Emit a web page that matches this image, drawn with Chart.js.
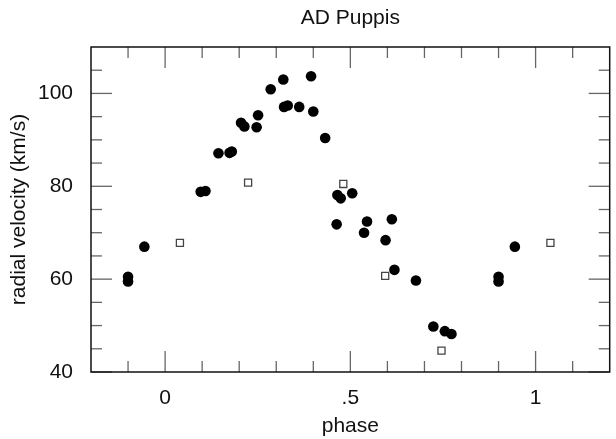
<!DOCTYPE html>
<html>
<head>
<meta charset="utf-8">
<script src="https://cdn.jsdelivr.net/npm/chart.js@4.4.0/dist/chart.umd.min.js"></script>
<style>
  html, body { margin: 0; padding: 0; background: #fff; }
</style>
</head>
<body>
<canvas id="rvChart" width="616" height="439"></canvas>
<script>
// filled circles (phase wraps: points below 0 repeat those near 0.9)
var circlePhase = [-0.100, -0.100, -0.056, 0.096, 0.109, 0.144, 0.174, 0.180, 0.205, 0.214,
                   0.247, 0.251, 0.285, 0.319, 0.321, 0.331, 0.362, 0.394, 0.400, 0.432,
                   0.463, 0.465, 0.474, 0.505, 0.537, 0.545, 0.595, 0.612, 0.619, 0.677,
                   0.724, 0.755, 0.773, 0.900, 0.900, 0.944];
var circleVel = [60.5, 59.5, 67.0, 78.8, 79.0, 87.1, 87.2, 87.5, 93.7, 92.9,
                 92.7, 95.3, 100.9, 103.0, 97.1, 97.4, 97.1, 103.7, 96.1, 90.4,
                 71.8, 78.1, 77.4, 78.5, 70.0, 72.4, 68.4, 72.9, 62.0, 59.7,
                 49.8, 48.8, 48.2, 60.5, 59.5, 67.0];

// open squares
var squarePhase = [0.040, 0.224, 0.481, 0.594, 0.746, 1.040];
var squareVel = [67.8, 80.8, 80.5, 60.7, 44.6, 67.8];

var xLabelTicks = [0, 0.5, 1];
var xMinorTicks = [-0.1, 0.1, 0.2, 0.3, 0.4, 0.6, 0.7, 0.8, 0.9, 1.1];
var yLabelTicks = [40, 60, 80, 100];
var yMinorTicks = [45, 50, 55, 65, 70, 75, 85, 90, 95, 105];

function pairs(xs, ys) {
    var out = [];
    for (var i in xs) {
        out.push({ x: xs[i], y: ys[i] });
    }
    return out;
}

// box around the plot with inward ticks on all four sides
var tickFrame = {
    id: 'tickFrame',
    beforeDatasetsDraw: function (chart) {
        var ctx = chart.ctx;
        var a = chart.chartArea;
        var xs = chart.scales.x;
        var ys = chart.scales.y;
        ctx.save();
        ctx.strokeStyle = '#666';
        ctx.lineWidth = 1.3;
        function seg(x1, y1, x2, y2) {
            ctx.beginPath();
            ctx.moveTo(x1, y1);
            ctx.lineTo(x2, y2);
            ctx.stroke();
        }
        function xt(v, len) {
            var p = xs.getPixelForValue(v);
            seg(p, a.bottom, p, a.bottom - len);
            seg(p, a.top, p, a.top + len);
        }
        function yt(v, len) {
            var p = ys.getPixelForValue(v);
            seg(a.left, p, a.left + len, p);
            seg(a.right, p, a.right - len, p);
        }
        xLabelTicks.forEach(function (v) { xt(v, 21); });
        xMinorTicks.forEach(function (v) { xt(v, 11); });
        yLabelTicks.forEach(function (v) { yt(v, 21); });
        yMinorTicks.forEach(function (v) { yt(v, 11); });
        ctx.strokeStyle = '#111';
        ctx.lineWidth = 1.5;
        ctx.strokeRect(a.left, a.top, a.right - a.left, a.bottom - a.top);
        ctx.restore();
    }
};

var fontFamily = '"Liberation Sans", Arial, Helvetica, sans-serif';

new Chart(document.getElementById('rvChart'), {
    type: 'scatter',
    data: {
        datasets: [
            {
                label: 'circles',
                data: pairs(circlePhase, circleVel),
                pointStyle: 'circle',
                pointRadius: 5.3,
                backgroundColor: '#000',
                borderColor: '#000',
                borderWidth: 0
            },
            {
                label: 'squares',
                data: pairs(squarePhase, squareVel),
                pointStyle: 'rect',
                pointRadius: 5,
                backgroundColor: '#fff',
                borderColor: '#444',
                borderWidth: 1.3
            }
        ]
    },
    options: {
        responsive: false,
        animation: false,
        layout: { padding: { left: 0, right: 1, top: 0, bottom: 0 } },
        plugins: {
            legend: { display: false },
            tooltip: { enabled: false },
            title: {
                display: true,
                text: 'AD Puppis',
                fullSize: false,
                color: '#111',
                font: { family: fontFamily, size: 21, weight: 'normal' },
                padding: { top: 6, bottom: 15.8 }
            }
        },
        scales: {
            x: {
                type: 'linear',
                min: -0.2,
                max: 1.2,
                grid: { display: false },
                border: { display: false },
                afterBuildTicks: function (scale) {
                    scale.ticks = xLabelTicks.map(function (v) { return { value: v }; });
                },
                afterFit: function (scale) { scale.height = 67; },
                ticks: {
                    color: '#111',
                    padding: 6,
                    font: { family: fontFamily, size: 21 },
                    callback: function (v) { return v === 0.5 ? '.5' : String(v); }
                },
                title: {
                    display: true,
                    text: 'phase',
                    color: '#111',
                    font: { family: fontFamily, size: 21 },
                    padding: { top: 0, bottom: 0 }
                }
            },
            y: {
                type: 'linear',
                min: 40,
                max: 110,
                grid: { display: false },
                border: { display: false },
                afterBuildTicks: function (scale) {
                    scale.ticks = yLabelTicks.map(function (v) { return { value: v }; });
                },
                afterFit: function (scale) { scale.width = 91; },
                ticks: {
                    color: '#111',
                    padding: 10,
                    font: { family: fontFamily, size: 21 }
                },
                title: {
                    display: true,
                    text: 'radial velocity (km/s)',
                    color: '#111',
                    font: { family: fontFamily, size: 21 },
                    padding: { top: 7, bottom: 0 }
                }
            }
        }
    },
    plugins: [tickFrame]
});
</script>
</body>
</html>
